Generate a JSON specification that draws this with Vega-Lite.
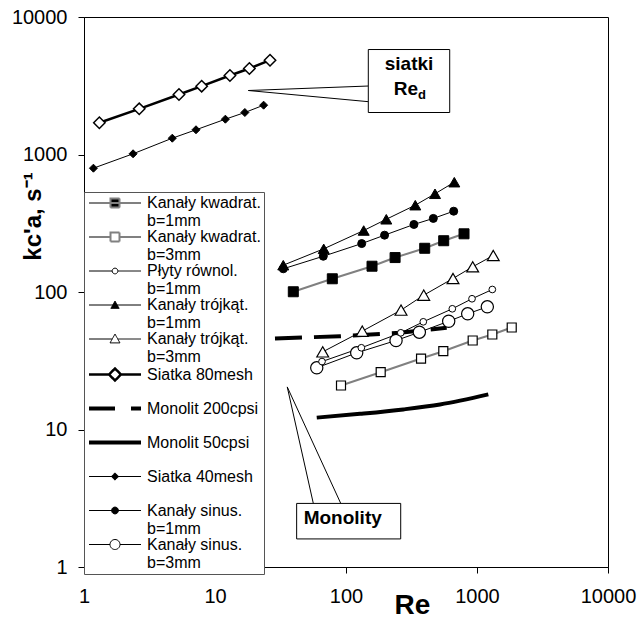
{
  "$schema": "https://vega.github.io/schema/vega-lite/v6.json",
  "width": 524,
  "height": 550,
  "autosize": {"type": "none"},
  "padding": {"left": 84, "top": 17, "right": 33, "bottom": 52},
  "background": "white",
  "config": {
    "font": "Liberation Sans",
    "view": {"stroke": "black", "strokeWidth": 1},
    "axis": {
      "grid": false, "domainColor": "black", "tickColor": "black", "labelColor": "black",
      "titleColor": "black", "labelFont": "Liberation Sans", "labelFontSize": 20,
      "titleFont": "Liberation Sans", "tickSize": 6, "labelFlush": false, "labelOverlap": false
    },
    "legend": {
      "orient": "none", "legendX": 0, "legendY": 175, "title": null,
      "symbolSize": 100, "symbolOffset": 20, "labelOffset": 24, "padding": 3, "rowPadding": -1.5,
      "fillColor": "white", "strokeColor": "#555555",
      "labelFont": "Liberation Sans", "labelFontSize": 16, "labelColor": "black", "labelLimit": 200
    }
  },
  "datasets": {
    "series": [
      {"series": "Kanały kwadrat. b=1mm", "Re": 39.6, "k": 100.4},
      {"series": "Kanały kwadrat. b=1mm", "Re": 78.6, "k": 124.8},
      {"series": "Kanały kwadrat. b=1mm", "Re": 158, "k": 154},
      {"series": "Kanały kwadrat. b=1mm", "Re": 237, "k": 178},
      {"series": "Kanały kwadrat. b=1mm", "Re": 399, "k": 208},
      {"series": "Kanały kwadrat. b=1mm", "Re": 557, "k": 236},
      {"series": "Kanały kwadrat. b=1mm", "Re": 796, "k": 265},
      {"series": "Kanały kwadrat. b=3mm", "Re": 91.6, "k": 20.9},
      {"series": "Kanały kwadrat. b=3mm", "Re": 184, "k": 26.1},
      {"series": "Kanały kwadrat. b=3mm", "Re": 374, "k": 32.8},
      {"series": "Kanały kwadrat. b=3mm", "Re": 553, "k": 37.1},
      {"series": "Kanały kwadrat. b=3mm", "Re": 927, "k": 44.4},
      {"series": "Kanały kwadrat. b=3mm", "Re": 1309, "k": 49.1},
      {"series": "Kanały kwadrat. b=3mm", "Re": 1841, "k": 55.2},
      {"series": "Płyty równol. b=1mm", "Re": 65.6, "k": 31.2},
      {"series": "Płyty równol. b=1mm", "Re": 131, "k": 39.3},
      {"series": "Płyty równol. b=1mm", "Re": 262, "k": 50.5},
      {"series": "Płyty równol. b=1mm", "Re": 389, "k": 60.7},
      {"series": "Płyty równol. b=1mm", "Re": 648, "k": 75.5},
      {"series": "Płyty równol. b=1mm", "Re": 916, "k": 89.3},
      {"series": "Płyty równol. b=1mm", "Re": 1309, "k": 104.3},
      {"series": "Kanały trójkąt. b=1mm", "Re": 33.2, "k": 156.7},
      {"series": "Kanały trójkąt. b=1mm", "Re": 67.6, "k": 206},
      {"series": "Kanały trójkąt. b=1mm", "Re": 136.5, "k": 280},
      {"series": "Kanały trójkąt. b=1mm", "Re": 203, "k": 338},
      {"series": "Kanały trójkąt. b=1mm", "Re": 338, "k": 428},
      {"series": "Kanały trójkąt. b=1mm", "Re": 478, "k": 518},
      {"series": "Kanały trójkąt. b=1mm", "Re": 671, "k": 629},
      {"series": "Kanały trójkąt. b=3mm", "Re": 66.4, "k": 36.7},
      {"series": "Kanały trójkąt. b=3mm", "Re": 133, "k": 51.9},
      {"series": "Kanały trójkąt. b=3mm", "Re": 263, "k": 73.8},
      {"series": "Kanały trójkąt. b=3mm", "Re": 392, "k": 94.8},
      {"series": "Kanały trójkąt. b=3mm", "Re": 656, "k": 125.4},
      {"series": "Kanały trójkąt. b=3mm", "Re": 927, "k": 152.5},
      {"series": "Kanały trójkąt. b=3mm", "Re": 1331, "k": 184.3},
      {"series": "Siatka 80mesh", "Re": 1.31, "k": 1702},
      {"series": "Siatka 80mesh", "Re": 2.64, "k": 2149},
      {"series": "Siatka 80mesh", "Re": 5.31, "k": 2730},
      {"series": "Siatka 80mesh", "Re": 7.91, "k": 3140},
      {"series": "Siatka 80mesh", "Re": 13.0, "k": 3756},
      {"series": "Siatka 80mesh", "Re": 18.3, "k": 4221},
      {"series": "Siatka 80mesh", "Re": 26.3, "k": 4850},
      {"series": "Monolit 200cpsi", "Re": 28.7, "k": 45.9},
      {"series": "Monolit 200cpsi", "Re": 90, "k": 47.7},
      {"series": "Monolit 200cpsi", "Re": 258, "k": 50.5},
      {"series": "Monolit 200cpsi", "Re": 587, "k": 54.9},
      {"series": "Monolit 50cpsi", "Re": 59.8, "k": 12.2},
      {"series": "Monolit 50cpsi", "Re": 128, "k": 13.0},
      {"series": "Monolit 50cpsi", "Re": 274, "k": 14.0},
      {"series": "Monolit 50cpsi", "Re": 522, "k": 15.2},
      {"series": "Monolit 50cpsi", "Re": 1220, "k": 18.0},
      {"series": "Siatka 40mesh", "Re": 1.18, "k": 795},
      {"series": "Siatka 40mesh", "Re": 2.37, "k": 1012},
      {"series": "Siatka 40mesh", "Re": 4.72, "k": 1314},
      {"series": "Siatka 40mesh", "Re": 7.16, "k": 1513},
      {"series": "Siatka 40mesh", "Re": 12.0, "k": 1806},
      {"series": "Siatka 40mesh", "Re": 16.9, "k": 2020},
      {"series": "Siatka 40mesh", "Re": 23.5, "k": 2284},
      {"series": "Kanały sinus. b=1mm", "Re": 33.2, "k": 147.5},
      {"series": "Kanały sinus. b=1mm", "Re": 67.1, "k": 182},
      {"series": "Kanały sinus. b=1mm", "Re": 131.8, "k": 225},
      {"series": "Kanały sinus. b=1mm", "Re": 197, "k": 259},
      {"series": "Kanały sinus. b=1mm", "Re": 330, "k": 310},
      {"series": "Kanały sinus. b=1mm", "Re": 464, "k": 343},
      {"series": "Kanały sinus. b=1mm", "Re": 664, "k": 387},
      {"series": "Kanały sinus. b=3mm", "Re": 59.8, "k": 28.1},
      {"series": "Kanały sinus. b=3mm", "Re": 120.7, "k": 36.1},
      {"series": "Kanały sinus. b=3mm", "Re": 241, "k": 44.4},
      {"series": "Kanały sinus. b=3mm", "Re": 363, "k": 51.0},
      {"series": "Kanały sinus. b=3mm", "Re": 608, "k": 61.3},
      {"series": "Kanały sinus. b=3mm", "Re": 849, "k": 69.4},
      {"series": "Kanały sinus. b=3mm", "Re": 1199, "k": 78.0}
    ],
    "boxes": [
      {"box": "siatki", "Re": 148, "Re2": 619, "k": 2020, "k2": 5801},
      {"box": "Monolity", "Re": 42.0, "Re2": 261.6, "k": 1.60, "k2": 2.90}
    ],
    "callouts": [
      {"id": "siatki", "i": 1, "Re": 148, "k": 3148},
      {"id": "siatki", "i": 2, "Re": 17.96, "k": 2920},
      {"id": "siatki", "i": 3, "Re": 148, "k": 2422},
      {"id": "Monolity", "i": 1, "Re": 56.3, "k": 2.90},
      {"id": "Monolity", "i": 2, "Re": 35.6, "k": 20.4},
      {"id": "Monolity", "i": 3, "Re": 91.2, "k": 2.90}
    ],
    "labels": [
      {"label": "siatki", "Re": 303, "k": 4590},
      {"label": "Monolity", "Re": 94.4, "k": 2.28},
      {"label": "Re", "Re": 355, "k": 2971},
      {"label": "d", "Re": 355, "k": 2730}
    ]
  },
  "encoding": {
    "x": {
      "field": "Re", "type": "quantitative",
      "scale": {"type": "log", "domain": [1, 10000]},
      "axis": {
        "title": "Re", "values": [1, 10, 100, 1000, 10000], "format": "d",
        "titleFontSize": 28, "titleFontWeight": "bold", "titleX": 328, "titleY": 46,
        "titleBaseline": "alphabetic", "labelPadding": 13
      }
    },
    "y": {
      "field": "k", "type": "quantitative",
      "scale": {"type": "log", "domain": [1, 10000]},
      "axis": {
        "title": "kc'a, s⁻¹", "values": [1, 10, 100, 1000, 10000], "format": "d",
        "titleFontSize": 24, "titleFontWeight": "bold", "titleX": -44, "titleY": 199,
        "titleBaseline": "alphabetic", "labelPadding": 11
      }
    }
  },
  "layer": [
    {
      "data": {"name": "callouts"},
      "mark": {"type": "line", "stroke": "black", "strokeWidth": 1},
      "encoding": {"detail": {"field": "id"}, "order": {"field": "i"}}
    },
    {
      "data": {"name": "series"},
      "transform": [{"filter": {"field": "series", "oneOf": ["Kanały kwadrat. b=1mm", "Kanały kwadrat. b=3mm"]}}],
      "mark": {"type": "line", "stroke": "#808080", "strokeWidth": 2},
      "encoding": {"detail": {"field": "series"}}
    },
    {
      "data": {"name": "series"},
      "transform": [{"filter": {"field": "series", "oneOf": ["Płyty równol. b=1mm", "Kanały trójkąt. b=1mm", "Kanały trójkąt. b=3mm", "Siatka 40mesh", "Kanały sinus. b=1mm", "Kanały sinus. b=3mm"]}}],
      "mark": {"type": "line", "stroke": "black", "strokeWidth": 1},
      "encoding": {"detail": {"field": "series"}}
    },
    {
      "data": {"name": "series"},
      "transform": [{"filter": {"field": "series", "equal": "Siatka 80mesh"}}],
      "mark": {"type": "line", "stroke": "black", "strokeWidth": 2.5},
      "encoding": {}
    },
    {
      "data": {"name": "series"},
      "transform": [{"filter": {"field": "series", "equal": "Monolit 200cpsi"}}],
      "mark": {"type": "line", "stroke": "black", "strokeWidth": 4, "strokeDash": [27, 12]},
      "encoding": {}
    },
    {
      "data": {"name": "series"},
      "transform": [{"filter": {"field": "series", "equal": "Monolit 50cpsi"}}],
      "mark": {"type": "line", "stroke": "black", "strokeWidth": 4, "interpolate": "monotone"},
      "encoding": {}
    },
    {
      "data": {"name": "series"},
      "transform": [{"filter": {"field": "series", "equal": "Kanały kwadrat. b=1mm"}}],
      "mark": {"type": "point", "shape": "square", "size": 100, "filled": true, "fill": "black", "stroke": "black", "strokeWidth": 1, "opacity": 1}
    },
    {
      "data": {"name": "series"},
      "transform": [{"filter": {"field": "series", "equal": "Kanały kwadrat. b=3mm"}}],
      "mark": {"type": "point", "shape": "square", "size": 81, "filled": true, "fill": "white", "stroke": "black", "strokeWidth": 1.2, "opacity": 1}
    },
    {
      "data": {"name": "series"},
      "transform": [{"filter": {"field": "series", "equal": "Kanały trójkąt. b=1mm"}}],
      "mark": {"type": "point", "shape": "triangle-up", "size": 121, "filled": true, "fill": "black", "stroke": "black", "strokeWidth": 1, "opacity": 1}
    },
    {
      "data": {"name": "series"},
      "transform": [{"filter": {"field": "series", "equal": "Kanały trójkąt. b=3mm"}}],
      "mark": {"type": "point", "shape": "triangle-up", "size": 140, "filled": true, "fill": "white", "stroke": "black", "strokeWidth": 1.2, "opacity": 1}
    },
    {
      "data": {"name": "series"},
      "transform": [{"filter": {"field": "series", "equal": "Kanały sinus. b=3mm"}}],
      "mark": {"type": "point", "shape": "circle", "size": 150, "filled": true, "fill": "white", "stroke": "black", "strokeWidth": 1.2, "opacity": 1}
    },
    {
      "data": {"name": "series"},
      "transform": [{"filter": {"field": "series", "equal": "Płyty równol. b=1mm"}}],
      "mark": {"type": "point", "shape": "circle", "size": 45, "filled": true, "fill": "white", "stroke": "black", "strokeWidth": 1, "opacity": 1}
    },
    {
      "data": {"name": "series"},
      "transform": [{"filter": {"field": "series", "equal": "Kanały sinus. b=1mm"}}],
      "mark": {"type": "point", "shape": "circle", "size": 64, "filled": true, "fill": "black", "stroke": "black", "strokeWidth": 1, "opacity": 1}
    },
    {
      "data": {"name": "series"},
      "transform": [{"filter": {"field": "series", "equal": "Siatka 80mesh"}}],
      "mark": {"type": "point", "shape": "diamond", "size": 130, "filled": true, "fill": "white", "stroke": "black", "strokeWidth": 1.5, "opacity": 1}
    },
    {
      "data": {"name": "series"},
      "transform": [{"filter": {"field": "series", "equal": "Siatka 40mesh"}}],
      "mark": {"type": "point", "shape": "diamond", "size": 64, "filled": true, "fill": "black", "stroke": "black", "strokeWidth": 1, "opacity": 1}
    },
    {
      "data": {"name": "boxes"},
      "mark": {"type": "rect", "fill": "white", "stroke": "black", "strokeWidth": 1},
      "encoding": {"x2": {"field": "Re2"}, "y2": {"field": "k2"}}
    },
    {
      "data": {"name": "labels"},
      "transform": [{"filter": {"field": "label", "oneOf": ["siatki", "Monolity"]}}],
      "mark": {"type": "text", "font": "Liberation Sans", "fontWeight": "bold", "fontSize": 19, "align": "center", "baseline": "middle", "color": "black"},
      "encoding": {"text": {"field": "label"}}
    },
    {
      "data": {"name": "labels"},
      "transform": [{"filter": {"field": "label", "equal": "Re"}}],
      "mark": {"type": "text", "font": "Liberation Sans", "fontWeight": "bold", "fontSize": 19, "align": "right", "baseline": "middle", "color": "black"},
      "encoding": {"text": {"field": "label"}}
    },
    {
      "data": {"name": "labels"},
      "transform": [{"filter": {"field": "label", "equal": "d"}}],
      "mark": {"type": "text", "font": "Liberation Sans", "fontWeight": "bold", "fontSize": 13, "align": "left", "baseline": "middle", "color": "black"},
      "encoding": {"text": {"field": "label"}}
    },
    {
      "data": {"name": "series"},
      "transform": [{"filter": "false"}],
      "mark": {"type": "point", "filled": true, "opacity": 1},
      "encoding": {
        "shape": {
          "field": "series", "type": "nominal",
          "scale": {
            "domain": ["Kanały kwadrat. b=1mm", "Kanały kwadrat. b=3mm", "Płyty równol. b=1mm", "Kanały trójkąt. b=1mm", "Kanały trójkąt. b=3mm", "Siatka 80mesh", "Monolit 200cpsi", "Monolit 50cpsi", "Siatka 40mesh", "Kanały sinus. b=1mm", "Kanały sinus. b=3mm"],
            "range": [
              "M-5.2,0H5.2M-0.9,-0.9H0.9V0.9H-0.9Z",
              "M-5.2,0H-0.9M0.9,0H5.2M-0.9,-0.9H0.9V0.9H-0.9Z",
              "M-5.2,0H-0.57M0.57,0H5.2M-0.57,0A0.57 0.57 0 1 0 0.57,0A0.57 0.57 0 1 0 -0.57,0Z",
              "M-5.2,0H5.2M0,-0.78L0.83,0.68L-0.83,0.68Z",
              "M-5.2,0H-0.55M0.55,0H5.2M0,-0.99L0.99,0.78L-0.99,0.78Z",
              "M-5.2,0H-1.2M1.2,0H5.2M-1.2,0L0,-1.2L1.2,0L0,1.2Z",
              "M-5.2,0H5.2",
              "M-5.2,0H5.2",
              "M-5.2,0H5.2M-0.73,0L0,-0.73L0.73,0L0,0.73Z",
              "M-5.2,0H5.2M-0.68,0A0.68 0.68 0 1 0 0.68,0A0.68 0.68 0 1 0 -0.68,0Z",
              "M-5.2,0H-1M1,0H5.2M-1,0A1 1 0 1 0 1,0A1 1 0 1 0 -1,0Z"
            ]
          },
          "legend": {"labelExpr": "indexof(datum.label, ' b=') > 0 ? [slice(datum.label, 0, indexof(datum.label, ' b=')), slice(datum.label, indexof(datum.label, ' b=') + 1)] : [datum.label, '']"}
        },
        "fill": {
          "field": "series", "type": "nominal",
          "scale": {
            "domain": ["Kanały kwadrat. b=1mm", "Kanały kwadrat. b=3mm", "Płyty równol. b=1mm", "Kanały trójkąt. b=1mm", "Kanały trójkąt. b=3mm", "Siatka 80mesh", "Monolit 200cpsi", "Monolit 50cpsi", "Siatka 40mesh", "Kanały sinus. b=1mm", "Kanały sinus. b=3mm"],
            "range": ["black", "white", "white", "black", "white", "white", "transparent", "transparent", "black", "black", "white"]
          },
          "legend": {"labelExpr": "indexof(datum.label, ' b=') > 0 ? [slice(datum.label, 0, indexof(datum.label, ' b=')), slice(datum.label, indexof(datum.label, ' b=') + 1)] : [datum.label, '']"}
        },
        "stroke": {
          "field": "series", "type": "nominal",
          "scale": {
            "domain": ["Kanały kwadrat. b=1mm", "Kanały kwadrat. b=3mm", "Płyty równol. b=1mm", "Kanały trójkąt. b=1mm", "Kanały trójkąt. b=3mm", "Siatka 80mesh", "Monolit 200cpsi", "Monolit 50cpsi", "Siatka 40mesh", "Kanały sinus. b=1mm", "Kanały sinus. b=3mm"],
            "range": ["#808080", "#808080", "black", "black", "black", "black", "black", "black", "black", "black", "black"]
          },
          "legend": {"labelExpr": "indexof(datum.label, ' b=') > 0 ? [slice(datum.label, 0, indexof(datum.label, ' b=')), slice(datum.label, indexof(datum.label, ' b=') + 1)] : [datum.label, '']"}
        },
        "strokeWidth": {
          "field": "series", "type": "nominal",
          "scale": {
            "type": "ordinal",
            "domain": ["Kanały kwadrat. b=1mm", "Kanały kwadrat. b=3mm", "Płyty równol. b=1mm", "Kanały trójkąt. b=1mm", "Kanały trójkąt. b=3mm", "Siatka 80mesh", "Monolit 200cpsi", "Monolit 50cpsi", "Siatka 40mesh", "Kanały sinus. b=1mm", "Kanały sinus. b=3mm"],
            "range": [2, 2, 1, 1, 1, 2.5, 4, 4, 1, 1, 1]
          },
          "legend": {"labelExpr": "indexof(datum.label, ' b=') > 0 ? [slice(datum.label, 0, indexof(datum.label, ' b=')), slice(datum.label, indexof(datum.label, ' b=') + 1)] : [datum.label, '']"}
        },
        "strokeDash": {
          "field": "series", "type": "nominal",
          "scale": {
            "domain": ["Kanały kwadrat. b=1mm", "Kanały kwadrat. b=3mm", "Płyty równol. b=1mm", "Kanały trójkąt. b=1mm", "Kanały trójkąt. b=3mm", "Siatka 80mesh", "Monolit 200cpsi", "Monolit 50cpsi", "Siatka 40mesh", "Kanały sinus. b=1mm", "Kanały sinus. b=3mm"],
            "range": [[1, 0], [1, 0], [1, 0], [1, 0], [1, 0], [1, 0], [26, 16], [1, 0], [1, 0], [1, 0], [1, 0]]
          },
          "legend": {"labelExpr": "indexof(datum.label, ' b=') > 0 ? [slice(datum.label, 0, indexof(datum.label, ' b=')), slice(datum.label, indexof(datum.label, ' b=') + 1)] : [datum.label, '']"}
        }
      }
    }
  ]
}
